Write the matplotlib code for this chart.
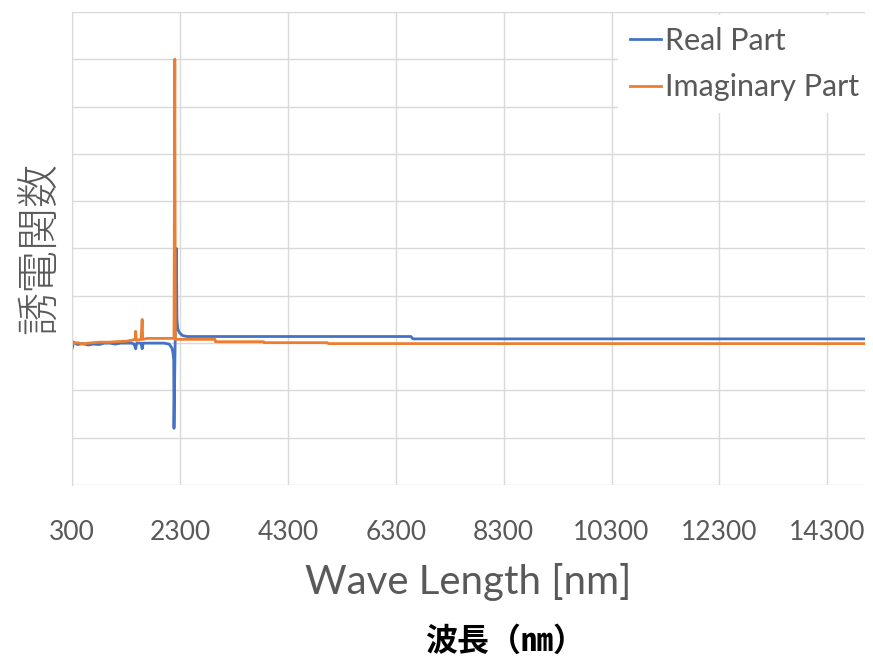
import numpy as np
import matplotlib
matplotlib.use("Agg")
import matplotlib.pyplot as plt

# wavelength [nm] and dielectric function values
wl_real = [300, 330, 400, 500, 600, 700, 800, 900, 1000, 1100, 1200, 1300,
           1400, 1450, 1480, 1500, 1580, 1600, 1620, 1700, 1800, 1900, 2000,
           2100, 2150, 2170, 2185, 2190, 2235, 2245, 2260, 2290, 2350, 2430,
           3000, 4000, 5000, 6000, 6580, 6620, 8000, 10000, 12000, 14000, 15000]
eps_real = [-0.12, 0.02, -0.03, -0.01, -0.04, -0.02, -0.03, 0.0, 0.0, -0.02,
            0.0, 0.0, 0.0, -0.02, -0.12, 0.0, 0.0, -0.12, 0.0, 0.0, 0.0, 0.0,
            0.0, -0.02, -0.1, -0.2, -0.35, -1.8, 2.0, 0.5, 0.3, 0.22, 0.16,
            0.14, 0.14, 0.14, 0.14, 0.14, 0.14, 0.09, 0.09, 0.09, 0.09, 0.09, 0.09]

wl_imag = [300, 320, 400, 500, 600, 700, 800, 900, 1000, 1100, 1300, 1400,
           1470, 1480, 1490, 1580, 1600, 1610, 1700, 1900, 2100, 2190, 2205,
           2215, 2230, 2950, 2960, 3850, 3860, 5030, 5050, 8000, 11000, 15000]
eps_imag = [0.05, -0.01, 0.01, -0.02, 0.0, 0.01, 0.02, 0.02, 0.02, 0.03,
            0.04, 0.06, 0.08, 0.25, 0.06, 0.08, 0.5, 0.08, 0.1, 0.1, 0.1,
            0.1, 6.0, 0.08, 0.08, 0.08, 0.03, 0.03, 0.01, 0.01, -0.01,
            -0.01, -0.01, -0.01]

x_ticks = [300, 2300, 4300, 6300, 8300, 10300, 12300, 14300]

grey = "#595959"
fig = plt.figure(figsize=(8.73, 6.6), dpi=100)
ax = fig.add_axes([0.0825, 0.265, 0.9085, 0.717])

ax.plot(wl_real, eps_real, color="#4472C4", lw=2.0, label="Real Part")
ax.plot(wl_imag, eps_imag, color="#ED7D31", lw=2.0, label="Imaginary Part")

ax.set_xlim(300, 15000)
ax.set_ylim(-3, 7)
ax.set_xticks(x_ticks)
ax.set_yticks(np.arange(-3, 8, 1))
ax.set_yticklabels([])
ax.tick_params(axis="x", length=0, pad=25, labelsize=19, labelcolor=grey)
ax.tick_params(axis="y", length=0)
for lab in ax.get_xticklabels():
    lab.set_family("Lato")
ax.grid(True, color="#D9D9D9", lw=1.0)
ax.set_axisbelow(True)
for side in ["top", "right", "bottom"]:
    ax.spines[side].set_visible(False)
ax.spines["left"].set_color("#D9D9D9")

ax.set_xlabel("Wave Length [nm]", family="Lato", fontsize=29, color=grey,
              labelpad=13)
ax.set_ylabel("誘電関数", family=["Noto Sans CJK JP", "DejaVu Sans"],
              fontsize=31, color=grey, fontweight="light", labelpad=4)

leg = ax.legend(loc="upper right", bbox_to_anchor=(1.015, 1.007), frameon=True,
                handlelength=1.0, handletextpad=0.12,
                borderaxespad=0.2, labelspacing=0.6,
                prop={"family": "Lato", "size": 22})
leg.get_frame().set_edgecolor("none")
leg.get_frame().set_facecolor("white")
leg.get_frame().set_alpha(1.0)
for t in leg.get_texts():
    t.set_color(grey)

fig.text(0.578, 0.027, "波長（㎚）", family=["Noto Sans CJK JP", "DejaVu Sans"],
         fontsize=23, fontweight="bold", color="black", ha="center", va="center")

fig.savefig("out.png", dpi=100)
